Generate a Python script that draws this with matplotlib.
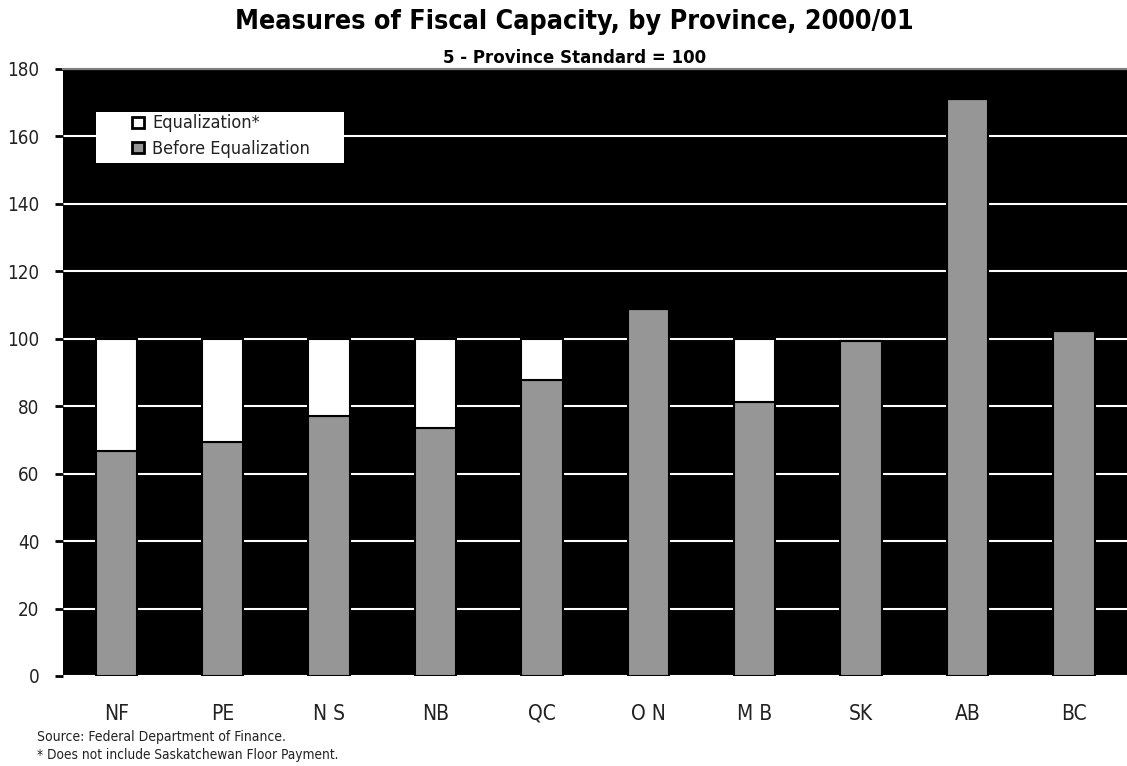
import matplotlib
matplotlib.use("Agg")
import matplotlib.pyplot as plt
from matplotlib.patches import Patch, Rectangle
from matplotlib import font_manager

# data (5-province standard = 100)
provinces = ["NF", "PE", "NS", "NB", "QC", "ON", "MB", "SK", "AB", "BC"]
tick_labels = ["NF", "PE", "N S", "NB", "QC", "O N", "M B", "SK", "AB", "BC"]
before_eq = [66.7, 69.5, 77.0, 73.5, 87.8, 108.8, 81.2, 99.4, 171.1, 102.3]
equalization = [33.3, 30.5, 23.0, 26.5, 12.2, 0, 18.8, 0, 0, 0]

# narrow font if there is one, else plain Liberation Sans
fonts = font_manager.fontManager.ttflist
names = set(f.name for f in fonts)
stretch = "normal"
if "Liberation Sans Narrow" in names:
    plt.rcParams['font.family'] = ['Liberation Sans Narrow', 'DejaVu Sans']
elif any(f.name == "DejaVu Sans" and f.stretch == "condensed" for f in fonts):
    plt.rcParams['font.family'] = ['DejaVu Sans']
    stretch = "condensed"
else:
    plt.rcParams['font.family'] = ['Liberation Sans', 'DejaVu Sans']
plt.rcParams['font.stretch'] = stretch

fig = plt.figure(figsize=(11.27, 7.66), dpi=100)
ax = fig.add_axes([0.056, 0.1175, 0.944, 0.7925])
ax.set_facecolor("black")

x = list(range(len(provinces)))
ax.bar(x, before_eq, width=0.39, color="#969696", edgecolor="black", linewidth=1.5, zorder=3)
ax.bar(x, equalization, width=0.39, bottom=before_eq, color="white", edgecolor="black", linewidth=1.5, zorder=3)

ax.set_xlim(-0.5, len(provinces) - 0.5)
ax.set_ylim(0, 180)
ax.set_yticks(range(0, 181, 20))
ax.yaxis.grid(True, color="white", linewidth=1.5, zorder=1)
ax.set_axisbelow(True)
ax.set_xticks(x)
ax.set_xticklabels(tick_labels)
ax.tick_params(axis="x", length=0, pad=20, labelsize=15, labelcolor="#222222")
ax.tick_params(axis="y", length=6, width=2, direction="out", labelsize=13.5, pad=11,
               labelcolor="#222222")
for s in ["right", "left", "bottom"]:
    ax.spines[s].set_visible(False)
ax.spines["top"].set_color("#808080")
ax.spines["top"].set_linewidth(1.5)

# white legend box, drawn by hand so it can be wider than its text
ax.add_patch(Rectangle((0.031, 0.845), 0.233, 0.084, transform=ax.transAxes,
                       facecolor="white", edgecolor="none", zorder=4))
handles = [Patch(facecolor="white", edgecolor="black", linewidth=2, label="Equalization*"),
           Patch(facecolor="#969696", edgecolor="black", linewidth=2, label="Before Equalization")]
leg = ax.legend(handles=handles, loc="upper left", bbox_to_anchor=(0.0648, 0.925), frameon=False,
                fontsize=13, handlelength=0.65, handleheight=0.55, handletextpad=0.45,
                borderpad=0, labelspacing=0.4, borderaxespad=0)
leg.set_zorder(5)
for t in leg.get_texts():
    t.set_color("#222222")

fig.text(0.510, 0.971, "Measures of Fiscal Capacity, by Province, 2000/01", ha="center", va="center",
         fontsize=19.3, fontweight="bold")
fig.text(0.510, 0.924, "5 - Province Standard = 100", ha="center", va="center",
         fontsize=13.3, fontweight="bold")
fig.text(0.033, 0.038, "Source: Federal Department of Finance.", ha="left", va="center",
         fontsize=10, color="#222222")
fig.text(0.033, 0.0144, "* Does not include Saskatchewan Floor Payment.", ha="left", va="center",
         fontsize=9.8, color="#222222")

fig.savefig("out.png", dpi=100, facecolor="white")
